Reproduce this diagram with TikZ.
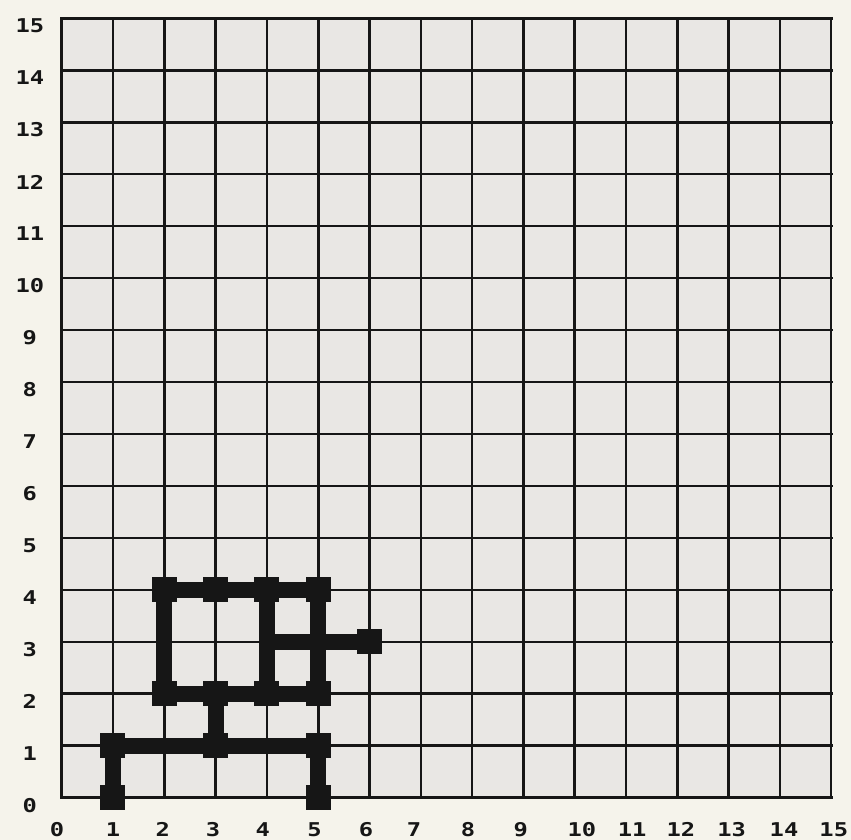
\documentclass[tikz,border=0pt]{standalone}
\usepackage{fontspec}
\newfontfamily\labfont{DejaVu Sans Mono}
\definecolor{paper}{HTML}{F5F3EB}
\definecolor{cell}{HTML}{E9E7E4}
\definecolor{ink}{HTML}{161616}
\pgfdeclarelayer{bg}
\pgfsetlayers{bg,main}
\begin{document}
\begin{tikzpicture}[x=51.3bp,y=51.96bp,
  gridline/.style={draw=ink,line width=2.6bp},
  pathline/.style={draw=ink,line width=16bp},
  joint/.style={rectangle,fill=ink,minimum size=25bp,inner sep=0pt},
  lab/.style={font=\labfont\bfseries\fontsize{19bp}{19bp}\selectfont,text=ink,inner sep=0pt,xscale=1.25}]
\begin{pgfonlayer}{bg}
\fill[paper] (-1.2027,-0.8141) rectangle (15.386,15.352);
\fill[cell] (0,0) rectangle (15,15);
\draw[gridline,line cap=rect,xstep=51.3bp,ystep=51.96bp] (0,0) grid (15,15);
\end{pgfonlayer}
\useasboundingbox (-1.2027,-0.8141) rectangle (15.386,15.352);
% joints
\foreach \p/\q in {1/0,1/1,3/1,5/1,5/0,2/2,3/2,4/2,5/2,2/4,3/4,4/4,5/4,6/3}
  \node[joint] (n\p\q) at (\p,\q) {};
\coordinate (c43) at (4,3);
% connectors
\begin{pgfonlayer}{bg}
\draw[pathline] (n10.center) -- (n11.center);
\draw[pathline] (n11.center) -- (n31.center);
\draw[pathline] (n31.center) -- (n51.center);
\draw[pathline] (n51.center) -- (n50.center);
\draw[pathline] (n31.center) -- (n32.center);
\draw[pathline] (n22.center) -- (n32.center);
\draw[pathline] (n32.center) -- (n42.center);
\draw[pathline] (n42.center) -- (n52.center);
\draw[pathline] (n22.center) -- (n24.center);
\draw[pathline] (n24.center) -- (n34.center);
\draw[pathline] (n34.center) -- (n44.center);
\draw[pathline] (n44.center) -- (n54.center);
\draw[pathline] (n44.center) -- (n42.center);
\draw[pathline] (n54.center) -- (n52.center);
\draw[pathline] (c43) -- (n63.center);
\end{pgfonlayer}
% x labels
\foreach \v/\xx in {0/-0.09,1/1.0,2/1.97,3/2.95,4/3.92,5/4.93,6/5.93,7/6.87,8/7.92,9/8.95,10/10.14,11/11.12,12/12.07,13/13.06,14/14.08,15/15.05}
  \node[lab] (xl\v) at (\xx,-0.62) {\v};
% y labels
\foreach \v in {0,...,15}
  \node[lab] (yl\v) at (-0.62,\v-0.15) {\v};
\end{tikzpicture}
\end{document}
